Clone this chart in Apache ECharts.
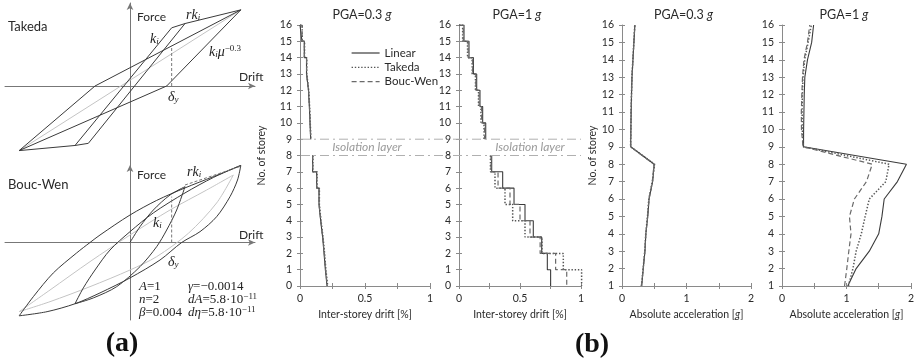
<!DOCTYPE html>
<html><head><meta charset="utf-8">
<script src="https://cdn.jsdelivr.net/npm/echarts@6/dist/echarts.min.js"></script>
<style>html,body{margin:0;padding:0;background:#fff}#c{width:917px;height:361px}</style>
</head><body><div id="c"></div>
<script>
// ---------------- DATA ----------------
const storeys = [1,2,3,4,5,6,7,8,9,10,11,12,13,14,15,16];
const seriesNames = ['Linear','Takeda','Bouc-Wen'];
const panelTitles = ['PGA=0.3 ', 'PGA=1 ', 'PGA=0.3 ', 'PGA=1 '];
const driftTicks = ['0','0.5','1'];
const accTicks = ['0','1','2'];
// inter-storey drift [%], storey 1..16 (value of segment s-1 -> s); storey 9 = isolation layer (not drawn)
const driftLin03 = [0.208,0.195,0.185,0.174,0.159,0.146,0.128,0.097,null,0.082,0.077,0.072,0.065,0.050,0.033,0.015];
const driftTak03 = [0.213,0.199,0.189,0.177,0.162,0.149,0.131,0.099,null,0.084,0.079,0.074,0.067,0.052,0.035,0.017];
const driftBW03  = [0.210,0.197,0.187,0.175,0.160,0.147,0.129,0.098,null,0.083,0.078,0.073,0.066,0.051,0.034,0.016];
const driftLin1  = [0.751,0.724,0.678,0.609,0.541,0.451,0.358,0.268,null,0.219,0.194,0.172,0.145,0.118,0.082,0.041];
const driftTak1  = [1.005,0.855,0.680,0.541,0.440,0.377,0.295,0.258,null,0.205,0.180,0.160,0.135,0.108,0.070,0.030];
const driftBW1   = [0.883,0.792,0.665,0.582,0.500,0.418,0.320,0.262,null,0.210,0.185,0.165,0.138,0.112,0.075,0.035];
// absolute acceleration [g], storey 1..16
const accLin03 = [0.305,0.330,0.356,0.370,0.400,0.420,0.475,0.500,0.135,0.138,0.142,0.148,0.155,0.170,0.185,0.200];
const accTak03 = [0.300,0.328,0.352,0.368,0.395,0.415,0.470,0.505,0.133,0.137,0.141,0.147,0.153,0.168,0.183,0.198];
const accBW03  = [0.302,0.329,0.354,0.369,0.398,0.418,0.472,0.495,0.134,0.137,0.141,0.147,0.154,0.169,0.184,0.199];
const accLin1  = [1.020,1.150,1.354,1.500,1.550,1.585,1.790,1.930,0.334,0.335,0.340,0.345,0.354,0.395,0.460,0.490];
const accTak1  = [1.030,1.100,1.150,1.230,1.290,1.354,1.610,1.660,0.330,0.315,0.312,0.316,0.326,0.352,0.405,0.455];
const accBW1   = [0.970,1.005,1.036,1.070,1.046,1.123,1.310,1.400,0.326,0.302,0.300,0.308,0.318,0.340,0.395,0.430];
// hysteresis schematics (drift, force) in units of yield drift
const takOuter  = [[-2.66,-1.51],[-0.84,0],[2.66,1.78],[0.88,0],[-2.66,-1.51]];
const takInner  = [[-2.66,-1.51],[-1.32,-1.39],[-1.0,-1.34],[1.32,1.46],[1.0,1.36],[-1.32,-1.39]];
const takRk     = [[1.32,1.46],[2.66,1.78]];
const takSecant = [[-2.66,-1.51],[2.66,1.78]];
const takDy     = [[1,0],[1,0.94]];
const bwUpper   = [[-2.66,-1.76],[-2.32,-1.30],[-1.84,-0.73],[-1.28,-0.25],[-0.96,0],[-0.72,0.18],[0,0.66],[0.64,1.01],[1.32,1.31],[2.0,1.58],[2.66,1.85]];
const bwLower   = [[2.66,1.85],[2.58,1.50],[2.40,1.10],[2.08,0.62],[1.68,0.26],[1.24,0],[0.72,-0.42],[0,-0.85],[-0.72,-1.21],[-1.32,-1.47],[-1.99,-1.66],[-2.66,-1.76]];
const bwVirgin  = [[0,0],[0.24,0.38],[0.56,0.78],[0.96,1.14],[1.32,1.34]];
const bwInDown  = [[1.32,1.34],[1.12,0.78],[0.88,0.30],[0.64,-0.10],[0.24,-0.58],[-0.32,-1.06],[-0.88,-1.33],[-1.32,-1.47]];
const bwInUp    = [[-1.32,-1.47],[-1.12,-1.09],[-0.84,-0.66],[-0.48,-0.18],[0,0.26],[0.56,0.71],[1.32,1.19],[2.0,1.56],[2.66,1.85]];
const bwGrayUp  = [[-2.66,-1.66],[-1.92,-1.14],[-0.96,-0.46],[0,0.18],[0.96,0.78],[1.84,1.26],[2.48,1.62]];
const bwGrayLow = [[2.48,1.62],[2.08,0.95],[1.40,0.22],[0.64,-0.34],[0,-0.66],[-0.96,-1.06],[-1.92,-1.42],[-2.66,-1.66]];
const bwRk      = [[1.32,1.38],[2.66,1.83]];
const bwDy      = [[1,0],[1,1.10]];

// ---------------- CHART ----------------
const FONT = 'Lato';
const AX = '#8a8a8a';
const TXT = '#2a2a2a';
const styles = {
  'Linear':   {color:'#3b3b3b', type:'solid', width:1.1},
  'Takeda':   {color:'#555555', type:[1.4,1.8], width:1.5},
  'Bouc-Wen': {color:'#6a6a6a', type:[5,3], width:1.2}
};
const chart = echarts.init(document.getElementById('c'));

const grids = [
  {left:5, top:3, width:250, height:166},
  {left:5, top:165, width:250, height:155},
  {left:300, top:25, width:130, height:261},
  {left:459, top:25, width:122, height:261},
  {left:622, top:25, width:129, height:261},
  {left:782, top:25, width:130, height:261}
];

const xAxes = [], yAxes = [];
[[-1.94,1.94],[-1.86,1.86]].forEach((yr,i)=>{
  xAxes.push({gridIndex:i, type:'value', min:-3, max:3, axisLine:{onZero:true, lineStyle:{color:'#777',width:1}, symbol:['none','arrow'], symbolSize:[5,7]},
    axisTick:{show:false}, axisLabel:{show:false}, splitLine:{show:false}});
  yAxes.push({gridIndex:i, type:'value', min:yr[0], max:yr[1], axisLine:{onZero:true, lineStyle:{color:'#777',width:1}, symbol:['none','arrow'], symbolSize:[5,7]},
    axisTick:{show:false}, axisLabel:{show:false}, splitLine:{show:false}});
});
const labelStyle = {color:TXT, fontFamily:FONT, fontSize:10.5};
const panels = [
  {kind:'drift', ymin:0, yname:true, nameGap:33},
  {kind:'drift', ymin:0, yname:false},
  {kind:'acc', ymin:1, yname:true, nameGap:21},
  {kind:'acc', ymin:1, yname:false}
];
panels.forEach((p,k)=>{
  const g = k+2;
  const isDrift = p.kind==='drift';
  const xmax = isDrift?1:2, xint = isDrift?0.25:0.5;
  const tickTxt = isDrift?driftTicks:accTicks;
  xAxes.push({gridIndex:g, type:'value', min:0, max:xmax, interval:xint,
    axisLine:{onZero:false, lineStyle:{color:AX,width:1}}, axisTick:{show:true, length:3, lineStyle:{color:AX}},
    splitLine:{show:false},
    axisLabel:Object.assign({margin:7, formatter:(v)=>{const t=tickTxt.find(s=>Math.abs(parseFloat(s)-v)<1e-9);return t===undefined?'':t;}}, labelStyle),
    name: isDrift?'Inter-storey drift [%]':'Absolute acceleration [{i|g}]', nameLocation:'middle', nameGap:19,
    nameTextStyle:{color:TXT, fontFamily:FONT, fontSize:10.5, rich:{i:{fontStyle:'italic', fontFamily:FONT, fontSize:10.5, color:TXT}}}});
  yAxes.push({gridIndex:g, type:'value', min:p.ymin, max:16, interval:1,
    axisLine:{onZero:false, lineStyle:{color:AX,width:1}}, axisTick:{show:true, length:3, lineStyle:{color:AX}},
    splitLine:{show:false}, axisLabel:Object.assign({margin:8}, labelStyle),
    name: p.yname?'No. of storey':'', nameLocation:'middle', nameGap:p.nameGap||20, nameRotate:90,
    nameTextStyle:{color:TXT, fontFamily:FONT, fontSize:10.5}});
});
panels.forEach((p,k)=>{
  const g = k+2;
  const isDrift = p.kind==='drift';
  xAxes.push({gridIndex:g, type:'value', position:'bottom', min:0, max:isDrift?1:2, interval:isDrift?0.25:0.5,
    axisLine:{show:false, onZero:false}, axisTick:{show:true, inside:true, length:3, lineStyle:{color:AX}}, axisLabel:{show:false}, splitLine:{show:false}});
  yAxes.push({gridIndex:g, type:'value', position:'left', min:p.ymin, max:16, interval:1,
    axisLine:{show:false, onZero:false}, axisTick:{show:true, inside:true, length:3, lineStyle:{color:AX}}, axisLabel:{show:false}, splitLine:{show:false}});
});

const series = [];
function hyst(grid, data, color, opts) {
  series.push(Object.assign({type:'line', xAxisIndex:grid, yAxisIndex:grid, data:data, symbol:'none', silent:true,
    animation:false, lineStyle:{color:color, width:1}, z:3}, opts||{}));
}
const DARK='#3a3a3a', LIGHT='#c4c4c4';
hyst(0, takSecant, LIGHT, {z:2});
hyst(0, takOuter, DARK);
hyst(0, takInner, DARK);
hyst(0, takRk, DARK);
hyst(0, takDy, '#777', {lineStyle:{color:'#777', width:1, type:[3,2]}});
hyst(1, bwGrayUp, LIGHT, {smooth:0.3, z:2});
hyst(1, bwGrayLow, LIGHT, {smooth:0.3, z:2});
hyst(1, bwUpper, DARK, {smooth:0.3});
hyst(1, bwLower, DARK, {smooth:0.3});
hyst(1, bwVirgin, DARK, {smooth:0.3});
hyst(1, bwInDown, DARK, {smooth:0.3});
hyst(1, bwInUp, DARK, {smooth:0.3});
hyst(1, bwRk, '#777', {lineStyle:{color:'#777', width:1, type:[3,2]}});
hyst(1, bwDy, '#777', {lineStyle:{color:'#777', width:1, type:[3,2]}});

function profSeries(name, grid, data) {
  const st = styles[name];
  series.push({type:'line', name:name, xAxisIndex:grid, yAxisIndex:grid, data:data, symbol:'none', showSymbol:false,
    animation:false, lineStyle:{color:st.color, width:st.width, type:st.type}, itemStyle:{color:st.color}, z:4});
}
function driftUpper(vals){ const pts=[[0,16]]; for(let s=16;s>=10;s--){const v=vals[s-1]; pts.push([v,s],[v,s-1]);} return pts; }
function driftLower(vals){ const pts=[]; for(let s=8;s>=1;s--){const v=vals[s-1]; pts.push([v,s],[v,s-1]);} return pts; }
function accPts(vals){ return storeys.map((s,i)=>[vals[i], s]); }
const driftSets = [[driftLin03,driftTak03,driftBW03],[driftLin1,driftTak1,driftBW1]];
const accSets = [[accLin03,accTak03,accBW03],[accLin1,accTak1,accBW1]];
driftSets.forEach((set,k)=>{
  set.forEach((vals,j)=>{
    profSeries(seriesNames[j], k+2, driftUpper(vals));
    profSeries(seriesNames[j], k+2, driftLower(vals));
  });
});
accSets.forEach((set,k)=>{
  set.forEach((vals,j)=>{ profSeries(seriesNames[j], k+4, accPts(vals)); });
});

chart.setOption({
  animation:false,
  grid:grids, xAxis:xAxes, yAxis:yAxes, series:series,
  legend:{data:seriesNames, orient:'vertical', left:346, top:42, itemWidth:28, itemHeight:13, itemGap:2.3,
    selectedMode:false, itemStyle:{color:'rgba(0,0,0,0)', borderWidth:0, opacity:0}, lineStyle:{width:1.2},
    textStyle:{color:TXT, fontFamily:FONT, fontSize:11.5}}
});

// ---------------- ANNOTATIONS ----------------
const SERIF = 'Liberation Serif';
function txt(x,y,text,o){ return {type:'text', x:x, y:y, silent:true, z:10, style:Object.assign({text:text, fill:TXT, font:'12px '+FONT, align:'left', verticalAlign:'middle'}, o||{})}; }
const ki = {k:{fontFamily:SERIF, fontStyle:'italic', fontSize:14, fill:'#222'}, s:{fontFamily:SERIF, fontStyle:'italic', fontSize:9, fill:'#222', verticalAlign:'bottom', padding:[6,0,0,0]},
  u:{fontFamily:SERIF, fontSize:9, fill:'#222', verticalAlign:'top', padding:[0,0,6,0]}, n:{fontFamily:SERIF, fontSize:13, fill:'#222'}, i:{fontFamily:SERIF, fontStyle:'italic', fontSize:13, fill:'#222'}};
const gfx = [];
gfx.push(txt(8,27,'Takeda',{font:'13px '+FONT}));
gfx.push(txt(137,17,'Force',{font:'12px '+FONT}));
gfx.push(txt(239,77,'Drift',{font:'12px '+FONT}));
gfx.push(txt(186,15,'{k|rk}{s|i}',{rich:ki}));
gfx.push(txt(150,39,'{k|k}{s|i}',{rich:ki}));
gfx.push(txt(209,52,'{k|k}{s|i}{k|μ}{u|−0.3}',{rich:ki}));
gfx.push(txt(168,97,'{k|δ}{s|y}',{rich:ki}));
gfx.push(txt(8,185,'Bouc-Wen',{font:'13px '+FONT}));
gfx.push(txt(137,175,'Force',{font:'12px '+FONT}));
gfx.push(txt(239,235,'Drift',{font:'12px '+FONT}));
gfx.push(txt(187,172,'{k|rk}{s|i}',{rich:ki}));
gfx.push(txt(153,223,'{k|k}{s|i}',{rich:ki}));
gfx.push(txt(168,262,'{k|δ}{s|y}',{rich:ki}));
gfx.push(txt(139,287,'{i|A}{n|=1}',{rich:ki}));
gfx.push(txt(139,300,'{i|n}{n|=2}',{rich:ki}));
gfx.push(txt(139,313,'{i|β}{n|=0.004}',{rich:ki}));
gfx.push(txt(188,287,'{i|γ}{n|=−0.0014}',{rich:ki}));
gfx.push(txt(188,300,'{i|dA}{n|=5.8·10}{u|−11}',{rich:ki}));
gfx.push(txt(188,313,'{i|dη}{n|=5.8·10}{u|−11}',{rich:ki}));
gfx.push(txt(122,344,'(a)',{font:'bold 28px '+SERIF, align:'center', fill:'#111'}));
gfx.push(txt(592,345,'(b)',{font:'bold 28px '+SERIF, align:'center', fill:'#111'}));
const titleX = [0,1,2,3].map(k=>grids[k+2].left+grids[k+2].width/2);
panelTitles.forEach((t,k)=>{
  gfx.push(txt(titleX[k]-3,15,'{a|'+t+'}{b|g}',{align:'center', rich:{a:{fontFamily:FONT,fontSize:12.5,fill:TXT}, b:{fontFamily:FONT,fontSize:12.5,fontStyle:'italic',fill:TXT}}}));
});
const p9a = chart.convertToPixel({xAxisIndex:2, yAxisIndex:2}, [0,9]);
const p8a = chart.convertToPixel({xAxisIndex:2, yAxisIndex:2}, [0,8]);
const pEnd = chart.convertToPixel({xAxisIndex:3, yAxisIndex:3}, [1,9]);
[p9a[1], p8a[1]].forEach(y=>{
  gfx.push({type:'line', silent:true, z:5, shape:{x1:p9a[0]+1, y1:y, x2:pEnd[0], y2:y}, style:{stroke:'#b0b0b0', lineWidth:1, lineDash:[9,4,2,4]}});
});
const midY = (p9a[1]+p8a[1])/2;
gfx.push(txt(367, midY, 'Isolation layer', {align:'center', font:'italic 12px '+FONT, fill:'#9a9a9a'}));
gfx.push(txt(530, midY, 'Isolation layer', {align:'center', font:'italic 12px '+FONT, fill:'#9a9a9a'}));
chart.setOption({graphic:gfx});
</script></body></html>
